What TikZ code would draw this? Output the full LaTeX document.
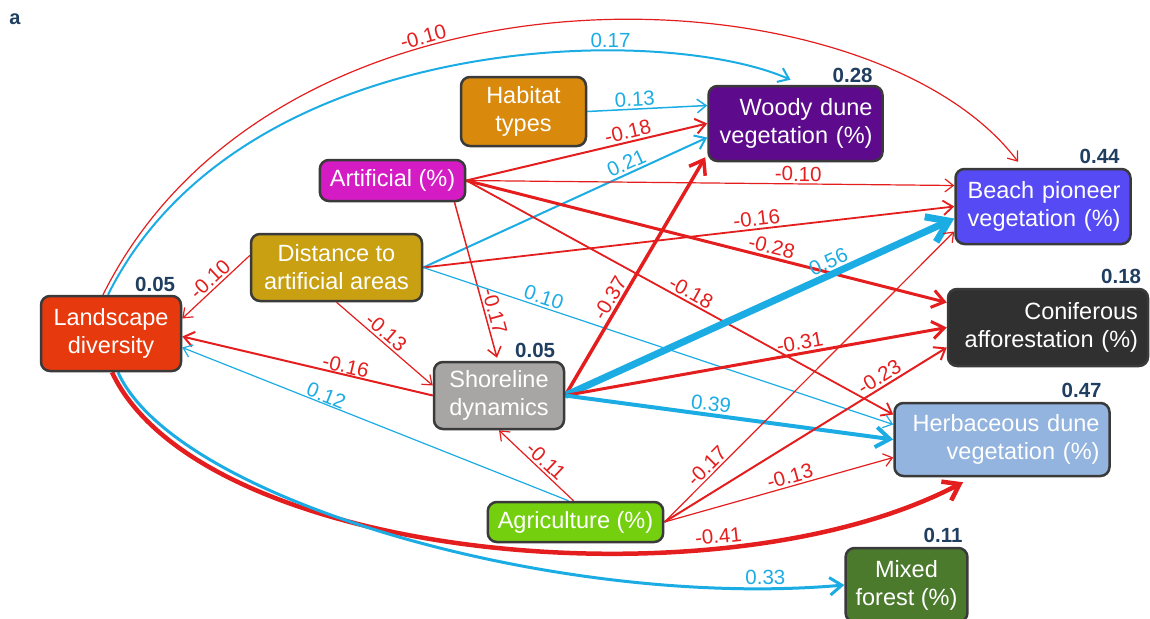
\documentclass[tikz,border=0pt]{standalone}
\usepackage{fontspec}
\setmainfont{Liberation Sans}
\usetikzlibrary{arrows.meta}
\definecolor{redc}{RGB}{228,30,30}
\definecolor{bluec}{RGB}{28,172,228}
\definecolor{r2c}{RGB}{31,62,96}
\definecolor{bordc}{RGB}{58,58,58}
\definecolor{landc}{RGB}{230,57,14}
\definecolor{habc}{RGB}{217,137,12}
\definecolor{woodyc}{RGB}{93,11,140}
\definecolor{artc}{RGB}{212,27,196}
\definecolor{beachc}{RGB}{86,74,244}
\definecolor{distc}{RGB}{200,160,18}
\definecolor{conifc}{RGB}{48,48,48}
\definecolor{shorec}{RGB}{168,165,165}
\definecolor{herbc}{RGB}{147,180,222}
\definecolor{agric}{RGB}{116,208,14}
\definecolor{mixedc}{RGB}{75,122,45}
\pgfdeclarelayer{background}
\pgfsetlayers{background,main}
\begin{document}
\begin{tikzpicture}[x=1pt,y=-1pt,
  box/.style={draw=bordc, line width=2.5pt, rounded corners=9pt, text=white,
    font=\fontsize{23.5}{28}\selectfont, inner xsep=10pt, inner ysep=0pt, align=center},
  rbox/.style={box, align=right},
  r2/.style={anchor=south east, inner sep=0pt, text=r2c, font=\bfseries\fontsize{20.5}{24}\selectfont},
  lbl/.style={font=\fontsize{20.5}{24}\selectfont, sloped, inner sep=2pt},
  redarr/.style={color=redc, -{Straight Barb[length=6pt 2, width=10pt 2.5]}},
  bluearr/.style={color=bluec, -{Straight Barb[length=6pt 2, width=10pt 2.5]}},
]
\useasboundingbox (0,0) rectangle (1150,618);

\node[font=\bfseries\fontsize{20}{24}\selectfont, text=r2c] (tag) at (15,19) {a};

\node[box, fill=landc, minimum width=140pt, minimum height=75pt] (land) at (111,333.5) {Landscape\\diversity};
\node[box, fill=habc, minimum width=125pt, minimum height=69pt] (hab) at (523.5,111.5) {Habitat\\types};
\node[rbox, fill=woodyc, text width=154pt, minimum height=75pt] (woody) at (795.5,123.5) {Woody dune\\vegetation (\%)};
\node[box, fill=artc, minimum width=133pt, minimum height=41pt] (art) at (392.5,180.5) {Artificial (\%)};
\node[rbox, fill=beachc, text width=155pt, minimum height=75pt] (beach) at (1043,206.5) {Beach pioneer\\vegetation (\%)};
\node[box, fill=distc, minimum width=171pt, minimum height=67pt] (dist) at (336.5,267.5) {Distance to\\artificial areas};
\node[rbox, fill=conifc, text width=180pt, minimum height=77pt] (conif) at (1048,327.5) {Coniferous\\afforestation (\%)};
\node[box, fill=shorec, minimum width=130pt, minimum height=67pt] (shore) at (499,395.5) {Shoreline\\dynamics};
\node[rbox, fill=herbc, text width=195pt, minimum height=73pt] (herb) at (1002,439.5) {Herbaceous dune\\vegetation (\%)};
\node[box, fill=agric, minimum width=163pt, minimum height=40pt] (agri) at (575.5,522) {Agriculture (\%)};
\node[box, fill=mixedc, minimum width=121pt, minimum height=74pt] (mixed) at (906.5,585) {Mixed\\forest (\%)};

\node[r2] (r2land) at ([xshift=-7pt,yshift=3pt]land.north east) {0.05};
\node[r2] (r2woody) at ([xshift=-11pt,yshift=2pt]woody.north east) {0.28};
\node[r2] (r2beach) at ([xshift=-12pt,yshift=4pt]beach.north east) {0.44};
\node[r2] (r2conif) at ([xshift=-8pt,yshift=4pt]conif.north east) {0.18};
\node[r2] (r2shore) at ([xshift=-10pt,yshift=3pt]shore.north east) {0.05};
\node[r2] (r2herb) at ([xshift=-9pt,yshift=4pt]herb.north east) {0.47};
\node[r2] (r2mixed) at ([xshift=-6pt,yshift=4pt]mixed.north east) {0.11};

\begin{pgfonlayer}{background}
\draw[redarr, line width=1.2pt] ([xshift=-8pt]land.north) .. controls (280,-60) and (870,-35) .. ([xshift=-25pt,yshift=6pt]beach.north) node[lbl,pos=.37,above]{-0.10};
\draw[bluearr, line width=2pt] ([xshift=-3pt]land.north) .. controls (240,30) and (660,22) .. ([xshift=-5pt,yshift=5pt]woody.north) node[lbl,pos=.7,above]{0.17};
\draw[bluearr, line width=1.5pt] (hab.east) -- ([yshift=18pt]woody.west) node[lbl,pos=.4,above]{0.13};
\draw[redarr, line width=2pt] (art.east) -- (woody.west) node[lbl,pos=.68,above]{-0.18};
\draw[bluearr, line width=2pt] (dist.east) -- ([yshift=-14pt]woody.west) node[lbl,pos=.73,above]{0.21};
\draw[redarr, line width=1.2pt] (art.east) -- ([yshift=21pt]beach.west) node[lbl,pos=.68,above]{-0.10};
\draw[redarr, line width=1.8pt] (dist.east) -- (beach.west) node[lbl,pos=.63,above]{-0.16};
\draw[redarr, line width=3pt] (art.east) -- ([yshift=25pt]conif.west) node[lbl,pos=.63,above]{-0.28};
\draw[redarr, line width=1.8pt] (art.east) -- ([yshift=25pt]herb.west) node[lbl,pos=.515,above]{-0.18};
\draw[redarr, line width=1.5pt] ([xshift=62pt]art.south) -- ([xshift=-2pt,yshift=3pt]shore.north) node[lbl,pos=.72,above]{-0.17};
\draw[redarr, line width=1.2pt] ([yshift=12pt]dist.west) -- ([yshift=15pt]land.east) node[lbl,pos=.49,above]{-0.10};
\draw[redarr, line width=1.2pt] (dist.south) -- ([yshift=10pt]shore.west) node[lbl,pos=.45,above]{-0.13};
\draw[bluearr, line width=1.2pt] (dist.east) -- ([yshift=15pt]herb.west) node[lbl,pos=.25,above]{0.10};
\draw[redarr, line width=2pt] (shore.west) -- ([yshift=-3pt]land.east) node[lbl,pos=.355,above,inner sep=0.5pt]{-0.16};
\draw[bluearr, line width=1.2pt] ([xshift=-7pt]agri.north) -- ([yshift=-14pt]land.east) node[lbl,pos=.635,above,inner sep=0.5pt]{0.12};
\draw[redarr, line width=1.2pt] ([xshift=-2pt]agri.north) -- (shore.south) node[lbl,pos=.46,above]{-0.11};
\draw[redarr, line width=3.5pt] (shore.east) -- ([xshift=-2pt,yshift=5pt]woody.south west) node[lbl,pos=.386,above]{-0.37};
\draw[bluearr, line width=7pt] (shore.east) -- ([yshift=-12pt]beach.west) node[lbl,pos=.69,above]{0.56};
\draw[redarr, line width=3pt] (shore.east) -- (conif.west) node[lbl,pos=.62,above]{-0.31};
\draw[bluearr, line width=4pt] (shore.east) -- (herb.west) node[lbl,pos=.44,above]{0.39};
\draw[redarr, line width=1.2pt] (agri.east) -- ([yshift=-25pt]beach.west) node[lbl,pos=.17,above]{-0.17};
\draw[redarr, line width=2pt] (agri.east) -- ([yshift=-20pt]conif.west) node[lbl,pos=.78,above]{-0.23};
\draw[redarr, line width=1.2pt] (agri.east) -- ([yshift=-18pt]herb.west) node[lbl,pos=.56,above]{-0.13};
\draw[redarr, line width=4.5pt] ([xshift=1pt]land.south) .. controls (200,560) and (720,610) .. ([xshift=-39pt,yshift=-5pt]herb.south) node[lbl,pos=.73,above]{-0.41};
\draw[bluearr, line width=3pt] ([xshift=7pt]land.south) .. controls (175,500) and (560,610) .. (mixed.west) node[lbl,pos=.91,above]{0.33};
\end{pgfonlayer}
\end{tikzpicture}
\end{document}
